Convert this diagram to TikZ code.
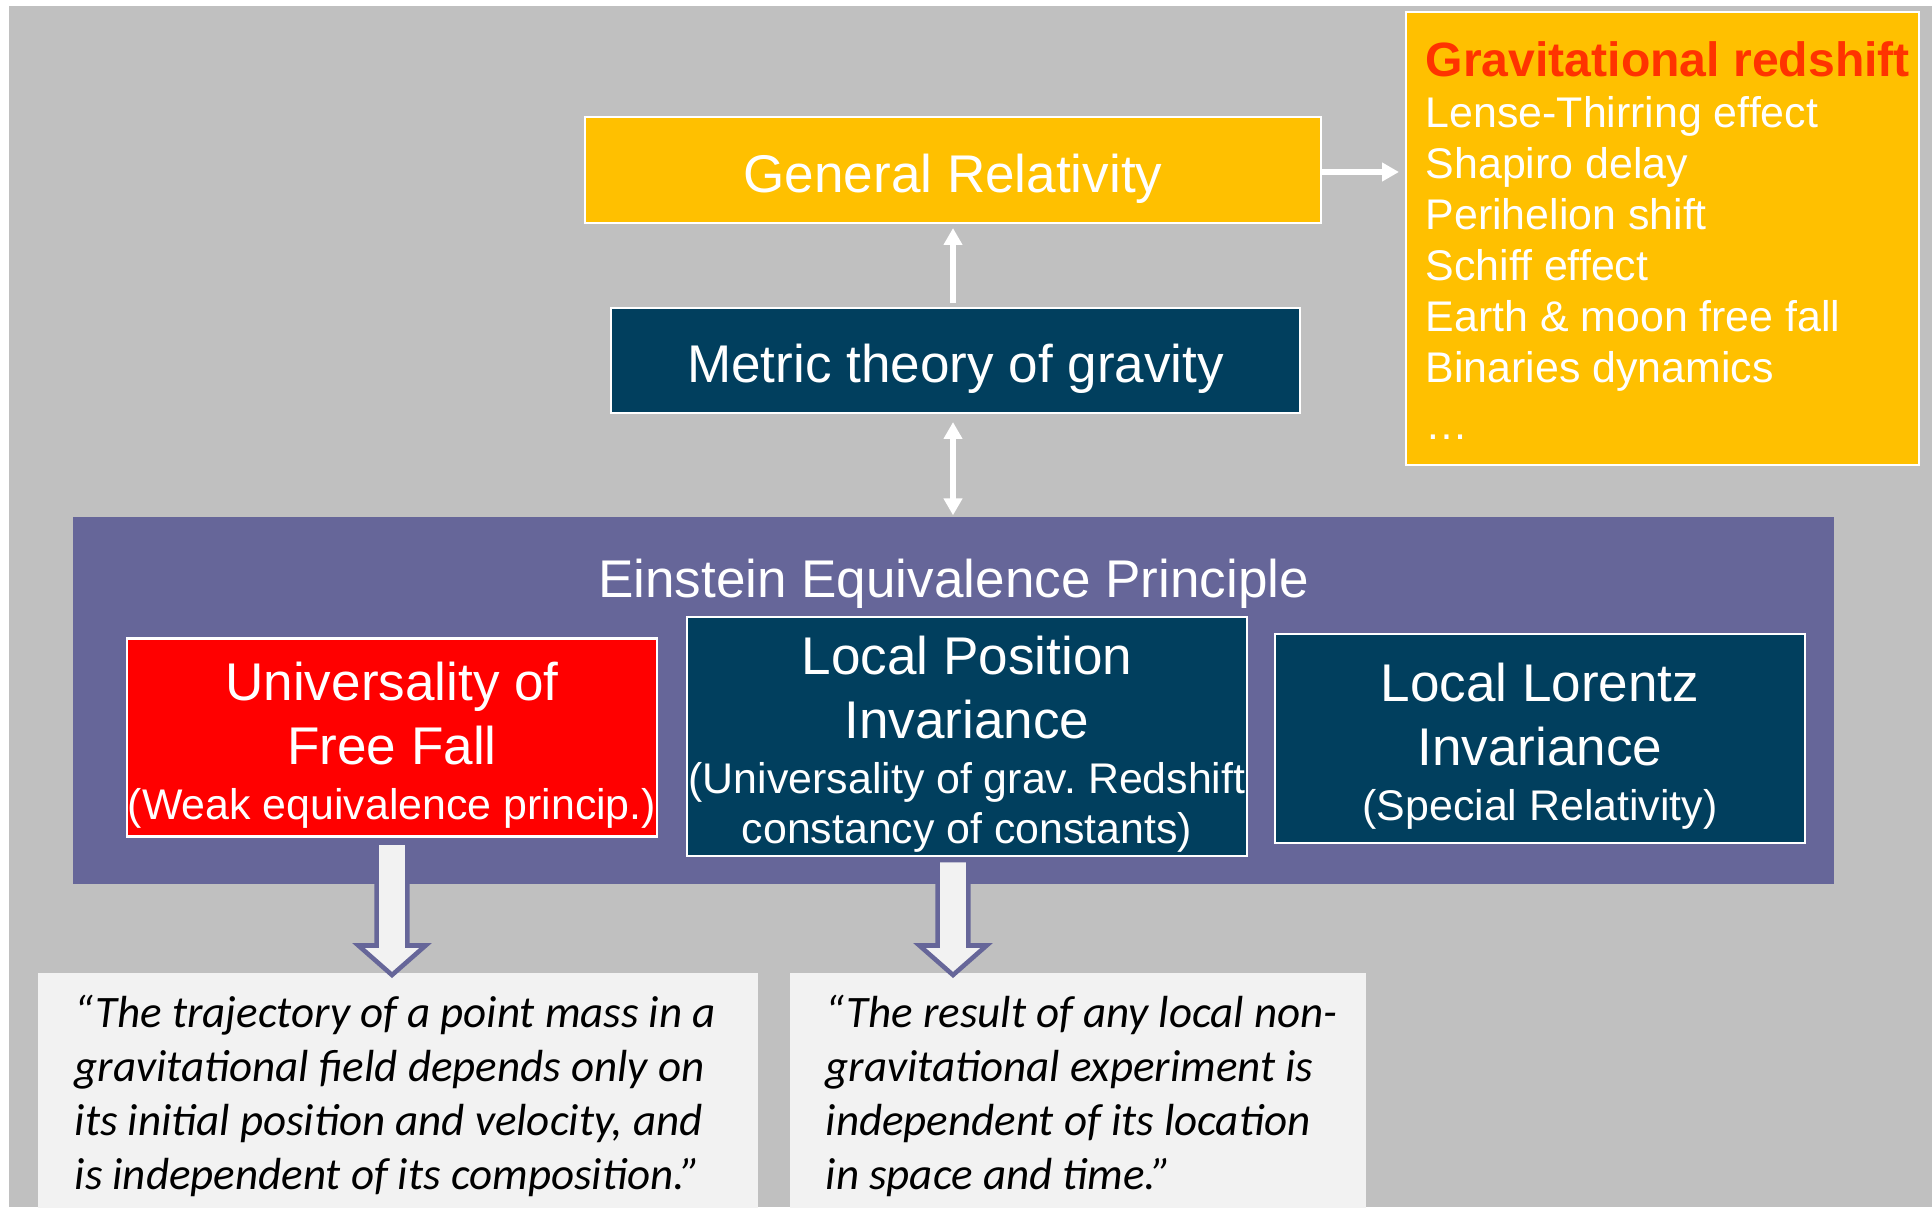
\documentclass[tikz,border=0pt]{standalone}
\usepackage{fontspec}
\setmainfont{Liberation Sans}
\newfontfamily\quotefamily{Carlito}
\usetikzlibrary{arrows.meta,calc}

\definecolor{bggray}{RGB}{192,192,192}
\definecolor{grgold}{RGB}{255,192,0}
\definecolor{deepteal}{RGB}{1,63,94}
\definecolor{eeppurple}{RGB}{102,102,153}
\definecolor{redshift}{RGB}{255,51,0}
\definecolor{quotefill}{RGB}{242,242,242}

\newcommand{\mainsize}{\fontsize{15.1}{18.2}\selectfont}
\newcommand{\subsize}{\fontsize{12.2}{14.5}\selectfont}
\newcommand{\quotesize}{\fontsize{12.8}{15.4}\selectfont}
\newcommand{\boxstrut}{\rule{0pt}{0.45cm}}

\begin{document}
\frenchspacing
\begin{tikzpicture}[y=-1cm,
    box/.style={draw=white, line width=0.6pt, text=white, align=center, inner sep=0pt, text depth=0pt, font=\mainsize},
    arrow/.style={-{Triangle[width=5.1pt,length=4.8pt]}, draw=white, line width=1.7pt},
    fatarrow/.style={draw=eeppurple, fill=quotefill, line width=1.3pt},
    quote/.style={anchor=north west, inner sep=0pt, align=left, font=\quotefamily\itshape\quotesize}
]
\useasboundingbox (0,0) rectangle (19.32,12.07);
\fill[bggray] (0.09,0.06) rectangle (19.32,12.07);

% top part
\node[box, fill=grgold, minimum width=7.36cm, minimum height=1.06cm] (gr) at (9.53,1.70) {\boxstrut General Relativity};
\node[box, fill=deepteal, minimum width=6.89cm, minimum height=1.05cm] (metric) at (9.555,3.605) {\boxstrut Metric theory of gravity};
\node[box, fill=grgold, minimum width=5.13cm, minimum height=4.53cm] (effects) at (16.625,2.385) {};
\node[anchor=north west, inner sep=0pt, text=white, align=left, font=\subsize] (efflist) at (14.25,0.41)
    {{\bfseries\fontsize{13.7}{14.5}\selectfont\color{redshift}Gravitational redshift}\\
     Lense-Thirring effect\\Shapiro delay\\Perihelion shift\\Schiff effect\\
     Earth \& moon free fall\\Binaries dynamics\\[1.7pt]\textellipsis};

% equivalence principle
\node[fill=eeppurple, minimum width=17.61cm, minimum height=3.67cm, inner sep=0pt] (eep) at (9.535,7.005) {};
\node[anchor=base, text=white, font=\mainsize] (eeptitle) at (9.535,5.97) {Einstein Equivalence Principle};
\node[box, fill=red, minimum width=5.30cm, minimum height=1.98cm] (uff) at (3.92,7.375)
    {\boxstrut Universality of\\Free Fall\\[-2.5pt]{\subsize(Weak equivalence princip.)}};
\node[box, fill=deepteal, minimum width=5.60cm, minimum height=2.39cm] (lpi) at (9.67,7.365)
    {\boxstrut Local Position\\Invariance\\[-2.5pt]{\subsize(Universality of grav. Redshift}\\[-4pt]{\subsize constancy of constants)}};
\node[box, fill=deepteal, minimum width=5.30cm, minimum height=2.09cm] (lli) at (15.40,7.385)
    {\boxstrut Local Lorentz\\Invariance\\[-2.5pt]{\subsize(Special Relativity)}};

% quotes
\node[fill=quotefill, minimum width=7.20cm, minimum height=2.35cm, inner sep=0pt, anchor=north west] (quoteL) at (0.37,9.72) {};
\node[fill=quotefill, minimum width=5.76cm, minimum height=2.35cm, inner sep=0pt, anchor=north west] (quoteR) at (7.89,9.72) {};
\node[quote] (quoteLtext) at (0.74,9.94) {“The trajectory of a point mass in a\\gravitational field depends only on\\its initial position and velocity, and\\is independent of its composition.”};
\node[quote] (quoteRtext) at (8.25,9.94) {“The result of any local non-\\gravitational experiment is\\independent of its location\\in space and time.”};

% connectors
\draw[arrow, shorten <=0.04cm, shorten >=0.04cm] (metric.north -| gr.south) -- (gr.south);
\draw[arrow, {Triangle[width=5.1pt,length=4.8pt]}-{Triangle[width=5.1pt,length=4.8pt]}, shorten <=0.08cm, shorten >=0.01cm] (metric.south -| gr.south) -- (eep.north -| gr.south);
\draw[arrow, shorten >=0.06cm] ($(gr.east)+(0,0.02)$) -- ($(gr.east -| effects.west)+(0,0.02)$);

\draw[fatarrow] let \p1=(uff.south), \p2=(quoteL.north) in
    (\x1-0.154cm,\y1-0.05cm) -- (\x1-0.154cm,\y2+0.265cm) -- (\x1-0.336cm,\y2+0.265cm) -- (\x1,\y2-0.03cm)
    -- (\x1+0.336cm,\y2+0.265cm) -- (\x1+0.154cm,\y2+0.265cm) -- (\x1+0.154cm,\y1-0.05cm) -- cycle;
\draw[fatarrow] let \p1=(lpi.south -| gr.south), \p2=(quoteR.north) in
    (\x1-0.154cm,\y1-0.03cm) -- (\x1-0.154cm,\y2+0.265cm) -- (\x1-0.336cm,\y2+0.265cm) -- (\x1,\y2-0.03cm)
    -- (\x1+0.336cm,\y2+0.265cm) -- (\x1+0.154cm,\y2+0.265cm) -- (\x1+0.154cm,\y1-0.03cm) -- cycle;
\end{tikzpicture}
\end{document}
